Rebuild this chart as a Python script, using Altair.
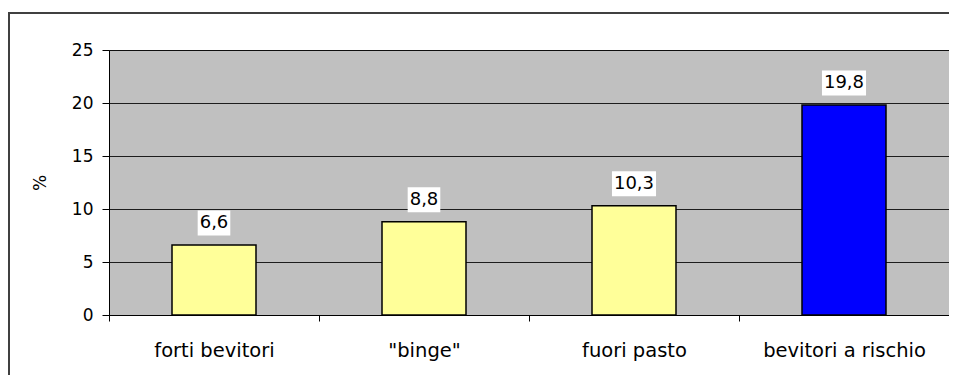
import altair as alt
import pandas as pd

categories = ["forti bevitori", "\"binge\"", "fuori pasto", "bevitori a rischio"]
values = [6.6, 8.8, 10.3, 19.8]
labels = ["6,6", "8,8", "10,3", "19,8"]
y_ticks = [0, 5, 10, 15, 20, 25]

bar_colors = ["#FFFF99", "#FFFF99", "#FFFF99", "#0000FF"]

df = pd.DataFrame({"cat": categories, "val": values, "label": labels})

FONT = "DejaVu Sans"
FS = 17

x_enc = alt.X("cat:N", sort=categories, title=None,
              scale=alt.Scale(paddingInner=0, paddingOuter=0),
              axis=alt.Axis(labelAngle=0, tickBand="extent", tickSize=6,
                            tickColor="#000000", domainColor="#000000",
                            labelFont=FONT, labelFontSize=19.5, labelColor="#000000",
                            labelPadding=20, grid=False, labelLimit=300))
y_enc = alt.Y("val:Q", title="%",
              scale=alt.Scale(domain=[0, 25], nice=False),
              axis=alt.Axis(values=y_ticks, tickSize=7, tickColor="#000000",
                            domainColor="#000000", labelFont=FONT, labelFontSize=FS,
                            labelColor="#000000", labelPadding=9, grid=True,
                            gridColor="#000000", gridOpacity=0.85, gridWidth=1,
                            titleFont=FONT, titleFontSize=FS, titleFontWeight="normal",
                            titleColor="#000000", titlePadding=22))

base = alt.Chart(df)

bars = base.mark_bar(width=alt.RelativeBandSize(0.4), stroke="#000000",
                     strokeWidth=1.5).encode(
    x=x_enc, y=y_enc,
    color=alt.Color("cat:N", sort=categories,
                    scale=alt.Scale(domain=categories, range=bar_colors), legend=None),
)

boxes = base.transform_calculate(
    w="(length(datum.label)-1)*0.636*18 + 0.318*18 + 4"
).mark_tick(color="#FFFFFF", opacity=1, thickness=25, yOffset=-22).encode(
    x=alt.X("cat:N", sort=categories),
    y=alt.Y("val:Q"),
    size=alt.Size("w:Q", scale=None),
)

texts = base.mark_text(font=FONT, fontSize=18, color="#000000", baseline="middle",
                       dy=-22).encode(
    x=alt.X("cat:N", sort=categories),
    y=alt.Y("val:Q"),
    text="label:N",
)

frame = alt.Chart(df).mark_rect(fill=None, stroke="#404040", strokeWidth=2).encode(
    x=alt.value(-100), x2=alt.value(1000), y=alt.value(-37), y2=alt.value(500)
)

chart = alt.layer(frame, bars, boxes, texts).properties(
    width=840, height=265,
    padding={"left": 101, "top": 42, "right": 0, "bottom": 60},
    autosize=alt.AutoSizeParams(type="none"),
    background="#FFFFFF",
).configure_view(
    fill="#C0C0C0", stroke="#606060", strokeWidth=1
)

chart.save("out.html", embed_options={"renderer": "svg", "actions": False})
